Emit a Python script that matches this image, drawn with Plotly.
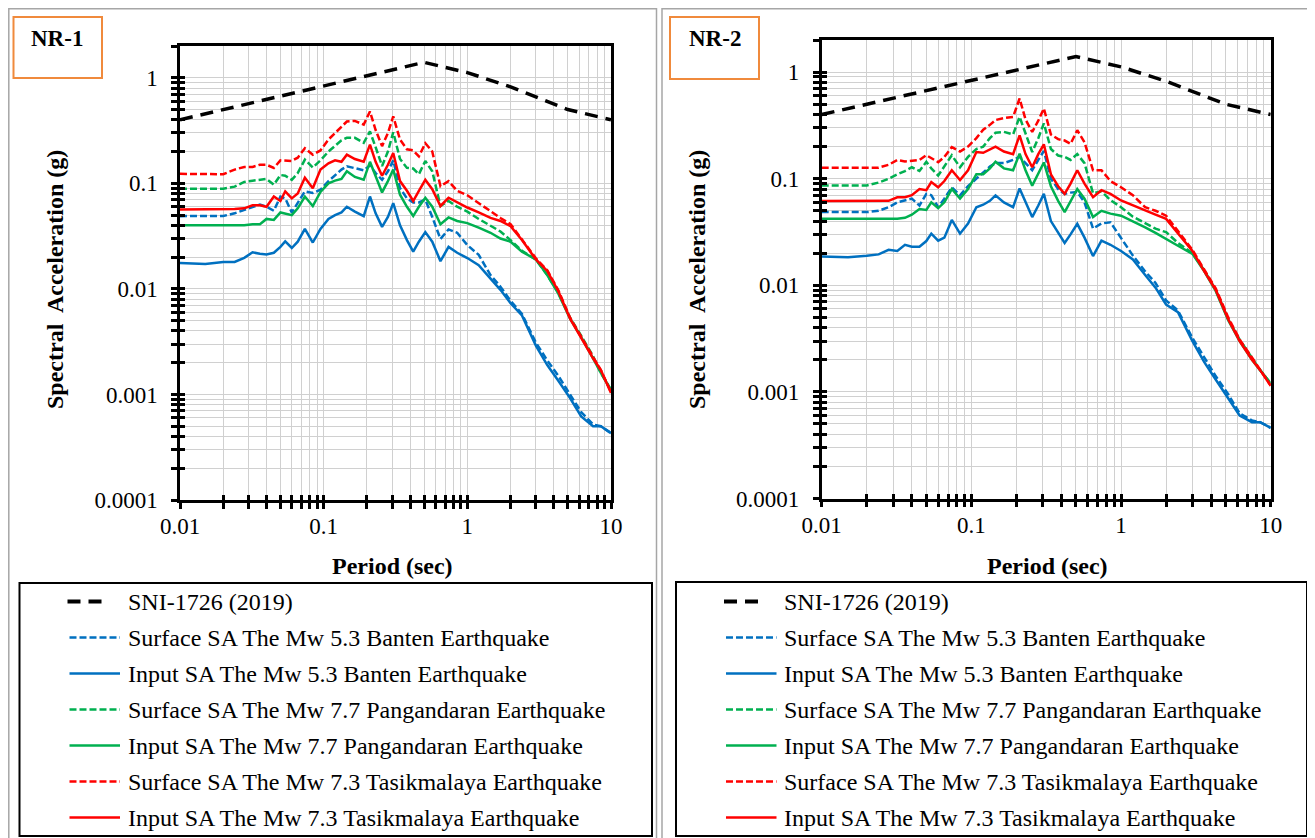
import plotly.graph_objects as go

# page offset (browser body margin) and figure size so the page fits 1315x838
OFF = 8
W, H = 1315 - OFF, 838 - OFF

# ---------------- data ----------------
period = [0.01, 0.015, 0.02, 0.024, 0.028, 0.032, 0.036, 0.04, 0.045, 0.05,
          0.054, 0.06, 0.066, 0.074, 0.084, 0.095, 0.108, 0.12, 0.133, 0.145,
          0.165, 0.19, 0.21, 0.23, 0.255, 0.28, 0.305, 0.34, 0.38, 0.42,
          0.46, 0.51, 0.57, 0.65, 0.74, 0.85, 1.0, 1.2, 1.45, 1.7,
          2.0, 2.4, 3.0, 3.6, 4.3, 5.2, 6.2, 7.5, 8.5, 10]

sni_period = [0.01, 0.5, 1.0, 2.0, 5.0, 10.0]
sni_sa = [0.40, 1.40, 1.12, 0.82, 0.50, 0.40]

nr1_banten_surface = [0.0489, 0.0489, 0.049, 0.052, 0.056, 0.060, 0.063, 0.060, 0.055, 0.075,
                      0.072, 0.053, 0.065, 0.084, 0.081, 0.087, 0.105, 0.12, 0.135, 0.145,
                      0.14, 0.133, 0.148, 0.125, 0.108, 0.13, 0.165, 0.09, 0.072, 0.066,
                      0.066, 0.070, 0.048, 0.0297, 0.0366, 0.034, 0.026, 0.021, 0.0135, 0.0105,
                      0.0077, 0.0058, 0.0031, 0.0021, 0.0015, 0.00098, 0.00068, 0.00052, 0.00050, 0.00043]
nr1_banten_input = [0.0176, 0.0172, 0.018, 0.018, 0.0197, 0.0222, 0.0215, 0.0212, 0.022, 0.025,
                    0.0282, 0.0244, 0.028, 0.037, 0.0275, 0.037, 0.046, 0.05, 0.053, 0.060,
                    0.054, 0.0488, 0.075, 0.052, 0.0387, 0.048, 0.065, 0.04, 0.029, 0.0225,
                    0.028, 0.0345, 0.028, 0.0183, 0.025, 0.022, 0.0196, 0.0168, 0.0125, 0.0098,
                    0.0073, 0.0056, 0.0029, 0.0019, 0.00135, 0.00092, 0.00062, 0.00050, 0.00050, 0.00043]
nr1_pang_surface = [0.0887, 0.0887, 0.089, 0.093, 0.103, 0.106, 0.108, 0.11, 0.097, 0.12,
                    0.118, 0.108, 0.125, 0.168, 0.141, 0.165, 0.2, 0.228, 0.255, 0.27,
                    0.27, 0.242, 0.31, 0.22, 0.146, 0.2, 0.305, 0.17, 0.14, 0.138,
                    0.122, 0.163, 0.13, 0.061, 0.068, 0.06, 0.054, 0.046, 0.040, 0.035,
                    0.029, 0.023, 0.019, 0.0135, 0.0092, 0.0053, 0.0036, 0.0023, 0.0016, 0.0011]
nr1_pang_input = [0.040, 0.040, 0.040, 0.040, 0.040, 0.041, 0.041, 0.046, 0.045, 0.053,
                  0.052, 0.050, 0.058, 0.075, 0.061, 0.083, 0.1, 0.106, 0.11, 0.13,
                  0.115, 0.108, 0.16, 0.115, 0.082, 0.105, 0.135, 0.078, 0.06, 0.049,
                  0.06, 0.073, 0.06, 0.041, 0.0475, 0.044, 0.042, 0.038, 0.034, 0.030,
                  0.028, 0.0225, 0.019, 0.0135, 0.009, 0.0052, 0.0035, 0.0022, 0.0016, 0.0011]
nr1_tasik_surface = [0.123, 0.123, 0.122, 0.135, 0.143, 0.143, 0.15, 0.15, 0.14, 0.165,
                     0.165, 0.163, 0.175, 0.215, 0.187, 0.205, 0.26, 0.30, 0.34, 0.385,
                     0.39, 0.36, 0.48, 0.32, 0.225, 0.30, 0.43, 0.26, 0.21, 0.205,
                     0.18, 0.24, 0.2, 0.094, 0.105, 0.085, 0.077, 0.065, 0.054, 0.047,
                     0.041, 0.0295, 0.0195, 0.015, 0.0097, 0.0053, 0.0035, 0.0023, 0.0017, 0.00105]
nr1_tasik_input = [0.0565, 0.0565, 0.057, 0.057, 0.058, 0.062, 0.062, 0.060, 0.075, 0.068,
                   0.084, 0.072, 0.08, 0.113, 0.09, 0.135, 0.155, 0.165, 0.16, 0.187,
                   0.17, 0.16, 0.233, 0.16, 0.118, 0.15, 0.194, 0.105, 0.085, 0.068,
                   0.085, 0.108, 0.088, 0.061, 0.073, 0.066, 0.059, 0.053, 0.047, 0.044,
                   0.0393, 0.029, 0.019, 0.0148, 0.0095, 0.0052, 0.0034, 0.0022, 0.0017, 0.00103]

nr2_banten_surface = [0.0486, 0.0486, 0.0486, 0.05, 0.054, 0.060, 0.063, 0.065, 0.056, 0.072,
                      0.070, 0.054, 0.065, 0.083, 0.07, 0.085, 0.1, 0.115, 0.13, 0.14,
                      0.14, 0.15, 0.16, 0.14, 0.12, 0.15, 0.182, 0.1, 0.08, 0.072,
                      0.074, 0.075, 0.06, 0.034, 0.038, 0.039, 0.028, 0.019, 0.0135, 0.0105,
                      0.0072, 0.0058, 0.0032, 0.0021, 0.0014, 0.00095, 0.00063, 0.00054, 0.00052, 0.00046]
nr2_banten_input = [0.0186, 0.0183, 0.0189, 0.0195, 0.0215, 0.021, 0.024, 0.023, 0.023, 0.026,
                    0.0305, 0.0262, 0.028, 0.041, 0.0305, 0.038, 0.054, 0.057, 0.062, 0.0697,
                    0.060, 0.054, 0.081, 0.06, 0.0436, 0.056, 0.072, 0.04, 0.031, 0.025,
                    0.03, 0.0377, 0.028, 0.0188, 0.0262, 0.024, 0.021, 0.0175, 0.0125, 0.0095,
                    0.0066, 0.0056, 0.003, 0.0019, 0.0013, 0.00088, 0.0006, 0.00052, 0.00052, 0.00046]
nr2_pang_surface = [0.0865, 0.0865, 0.0865, 0.092, 0.1, 0.11, 0.118, 0.128, 0.118, 0.144,
                    0.125, 0.107, 0.13, 0.166, 0.128, 0.16, 0.19, 0.2, 0.24, 0.27,
                    0.275, 0.26, 0.38, 0.26, 0.178, 0.24, 0.33, 0.19, 0.165, 0.16,
                    0.15, 0.17, 0.14, 0.073, 0.076, 0.063, 0.054, 0.044, 0.038, 0.034,
                    0.0315, 0.025, 0.020, 0.0138, 0.009, 0.0048, 0.0031, 0.0021, 0.0016, 0.0012]
nr2_pang_input = [0.042, 0.042, 0.042, 0.042, 0.042, 0.042, 0.043, 0.046, 0.052, 0.051,
                  0.06, 0.053, 0.06, 0.08, 0.065, 0.08, 0.11, 0.11, 0.125, 0.144,
                  0.125, 0.12, 0.172, 0.12, 0.086, 0.11, 0.142, 0.085, 0.062, 0.0486,
                  0.062, 0.08, 0.065, 0.0436, 0.050, 0.047, 0.045, 0.040, 0.035, 0.031,
                  0.027, 0.0235, 0.0197, 0.0135, 0.0088, 0.0047, 0.0030, 0.0020, 0.0016, 0.0012]
nr2_tasik_surface = [0.127, 0.127, 0.127, 0.127, 0.135, 0.150, 0.145, 0.148, 0.15, 0.166,
                     0.155, 0.143, 0.16, 0.198, 0.18, 0.2, 0.24, 0.288, 0.32, 0.355,
                     0.37, 0.38, 0.565, 0.36, 0.274, 0.35, 0.456, 0.26, 0.235, 0.228,
                     0.212, 0.285, 0.22, 0.12, 0.12, 0.095, 0.083, 0.07, 0.054, 0.050,
                     0.045, 0.032, 0.0215, 0.014, 0.0093, 0.005, 0.0031, 0.0021, 0.0016, 0.00115]
nr2_tasik_input = [0.0616, 0.0616, 0.0616, 0.062, 0.062, 0.067, 0.067, 0.070, 0.08, 0.078,
                   0.093, 0.083, 0.095, 0.12, 0.097, 0.12, 0.178, 0.175, 0.19, 0.2,
                   0.18, 0.17, 0.255, 0.17, 0.128, 0.17, 0.21, 0.11, 0.085, 0.072,
                   0.09, 0.12, 0.09, 0.067, 0.078, 0.072, 0.0625, 0.056, 0.050, 0.046,
                   0.042, 0.031, 0.021, 0.0135, 0.0090, 0.0048, 0.0030, 0.0020, 0.0016, 0.00114]

series_names = ["SNI-1726 (2019)",
                "Surface SA The Mw 5.3 Banten Earthquake",
                "Input SA The Mw 5.3 Banten Earthquake",
                "Surface SA The Mw 7.7 Pangandaran Earthquake",
                "Input SA The Mw 7.7 Pangandaran Earthquake",
                "Surface SA The Mw 7.3 Tasikmalaya Earthquake",
                "Input SA The Mw 7.3 Tasikmalaya Earthquake"]
panel_labels = ["NR-1", "NR-2"]
x_ticks = [0.01, 0.1, 1, 10]
x_ticktext = ["0.01", "0.1", "1", "10"]
y_ticks = [0.0001, 0.001, 0.01, 0.1, 1]
y_ticktext = ["0.0001", "0.001", "0.01", "0.1", "1"]

# ---------------- styles ----------------
BLUE, GREEN, RED = "#0070C0", "#00B050", "#FF0000"
colors = ["#000000", BLUE, BLUE, GREEN, GREEN, RED, RED]
dashes = ["13px,8px", "7px,3px", "solid", "7px,3px", "solid", "7px,3px", "solid"]
widths = [3.5, 2.5, 2.5, 2.5, 2.5, 2.5, 2.5]
FONT = "Liberation Serif, Times New Roman, serif"

panels_data = [
    [nr1_banten_surface, nr1_banten_input, nr1_pang_surface, nr1_pang_input, nr1_tasik_surface, nr1_tasik_input],
    [nr2_banten_surface, nr2_banten_input, nr2_pang_surface, nr2_pang_input, nr2_tasik_surface, nr2_tasik_input],
]

def PX(x):
    """page pixel -> paper fraction"""
    return (x - OFF) / W

def PY(y):
    return 1 - (y - OFF) / H

# panel geometry in page pixels
geo = [
    dict(x0=180, x1=611, y0=46, y1=500, frame=(8.8, 8.8, 656.5, 850), label_box=(13.5, 17, 102, 78),
         label_x=29, ytitle_x=55, xtitle_x=392, legend=(19.5, 583, 652, 836)),
    dict(x0=821.7, x1=1270.7, y0=40, y1=498.5, frame=(662, 8.8, 1330, 850), label_box=(670, 17, 759, 79),
         label_x=687, ytitle_x=697, xtitle_x=1047, legend=(676, 582, 1307, 836)),
]

fig = go.Figure()
layout = dict(width=W, height=H, margin=dict(l=0, r=0, t=0, b=0, pad=0, autoexpand=False),
              paper_bgcolor="white", plot_bgcolor="white", showlegend=False,
              font=dict(family=FONT, color="black"))
shapes, annotations = [], []

minor_x = [m * 10 ** e for e in range(-2, 1) for m in range(2, 10)]
minor_y = [m * 10 ** e for e in range(-4, 0) for m in range(2, 10)] + [2]

for i, g in enumerate(geo):
    n = 1 + 2 * i       # main axes index
    o = 2 + 2 * i       # overlay axes for inward ticks
    xa, ya = f"x{n}" if n > 1 else "x", f"y{n}" if n > 1 else "y"
    xo, yo = f"x{o}", f"y{o}"
    dom_x = [PX(g["x0"]), PX(g["x1"])]
    dom_y = [PY(g["y1"]), PY(g["y0"])]
    common_x = dict(type="log", range=[-2, 1], domain=dom_x, tickvals=x_ticks, ticktext=x_ticktext,
                    automargin=False)
    common_y = dict(type="log", range=[-4, 0.30103], domain=dom_y, tickvals=y_ticks, ticktext=y_ticktext,
                    automargin=False)
    layout[f"xaxis{n if n > 1 else ''}"] = dict(
        **common_x, anchor=ya, showline=True, linecolor="black", linewidth=2.5, mirror=True,
        ticks="outside", ticklen=6, tickwidth=2.5, tickcolor="black",
        tickfont=dict(size=23, family=FONT), ticklabelstandoff=-2,
        showgrid=True, gridcolor="#d0d0d0", gridwidth=1, zeroline=False,
        minor=dict(tickvals=minor_x, ticks="outside", ticklen=6, tickwidth=2.5, tickcolor="black",
                   showgrid=True, gridcolor="#d0d0d0", gridwidth=1))
    layout[f"yaxis{n if n > 1 else ''}"] = dict(
        **common_y, anchor=xa, showline=True, linecolor="black", linewidth=2.5, mirror=True,
        ticks="outside", ticklen=6, tickwidth=2.5, tickcolor="black",
        tickfont=dict(size=23, family=FONT), ticklabelstandoff=9,
        showgrid=True, gridcolor="#d0d0d0", gridwidth=1, zeroline=False,
        minor=dict(tickvals=minor_y, ticks="outside", ticklen=6, tickwidth=2.5, tickcolor="black",
                   showgrid=True, gridcolor="#d0d0d0", gridwidth=1))
    layout[f"xaxis{o}"] = dict(**common_x, overlaying=xa, anchor=ya, side="bottom",
                               showline=False, ticks="inside", ticklen=5, tickwidth=2.5, tickcolor="black",
                               showticklabels=False, showgrid=False, zeroline=False,
                               minor=dict(tickvals=minor_x, ticks="inside", ticklen=5, tickwidth=2.5,
                                          tickcolor="black", showgrid=False))
    layout[f"yaxis{o}"] = dict(**common_y, overlaying=ya, anchor=xa, side="left",
                               showline=False, ticks="inside", ticklen=5, tickwidth=2.5, tickcolor="black",
                               showticklabels=False, showgrid=False, zeroline=False,
                               minor=dict(tickvals=minor_y, ticks="inside", ticklen=5, tickwidth=2.5,
                                          tickcolor="black", showgrid=False))

    # SNI design spectrum
    fig.add_trace(go.Scatter(x=sni_period, y=sni_sa, mode="lines", name=series_names[0],
                             line=dict(color=colors[0], dash=dashes[0], width=widths[0]),
                             xaxis=xa, yaxis=ya))
    for k, vals in enumerate(panels_data[i]):
        fig.add_trace(go.Scatter(x=period, y=vals, mode="lines", name=series_names[k + 1],
                                 line=dict(color=colors[k + 1], dash=dashes[k + 1], width=widths[k + 1]),
                                 xaxis=xa, yaxis=ya))
    fig.add_trace(go.Scatter(x=[], y=[], mode="lines", xaxis=xo, yaxis=yo, hoverinfo="skip"))

    # panel frame
    fx0, fy0, fx1, fy1 = g["frame"]
    shapes.append(dict(type="rect", xref="paper", yref="paper", x0=PX(fx0), x1=PX(fx1),
                       y0=PY(fy1), y1=PY(fy0), line=dict(color="#a6a6a6", width=1.5), layer="below"))
    # orange label box
    bx0, by0, bx1, by1 = g["label_box"]
    shapes.append(dict(type="rect", xref="paper", yref="paper", x0=PX(bx0), x1=PX(bx1),
                       y0=PY(by1), y1=PY(by0), line=dict(color="#F08A3C", width=2)))
    annotations.append(dict(text=f"<b>{panel_labels[i]}</b>", xref="paper", yref="paper",
                            x=PX(g["label_x"]), y=PY(38), xanchor="left", yanchor="middle",
                            showarrow=False, font=dict(size=23, family=FONT)))
    # axis titles
    annotations.append(dict(text="<b>Spectral\u00a0 Acceleration (g)</b>", xref="paper", yref="paper",
                            x=PX(g["ytitle_x"]), y=PY(280), xanchor="center", yanchor="middle",
                            textangle=-90, showarrow=False, font=dict(size=24, family=FONT)))
    annotations.append(dict(text="<b>Period (sec)</b>", xref="paper", yref="paper",
                            x=PX(g["xtitle_x"]), y=PY(566), xanchor="center", yanchor="middle",
                            showarrow=False, font=dict(size=24, family=FONT)))
    # legend box
    lx0, ly0, lx1, ly1 = g["legend"]
    shapes.append(dict(type="rect", xref="paper", yref="paper", x0=PX(lx0), x1=PX(lx1),
                       y0=PY(ly1), y1=PY(ly0), line=dict(color="black", width=2)))
    for k, name in enumerate(series_names):
        yy = 601.5 + 36 * k
        sx0 = lx0 + (48 if k == 0 else 50)
        sx1 = lx0 + (90 if k == 0 else 100.5)
        shapes.append(dict(type="line", xref="paper", yref="paper", x0=PX(sx0), x1=PX(sx1),
                           y0=PY(yy), y1=PY(yy),
                           line=dict(color=colors[k], width=widths[k] + (0.5 if k == 0 else 0),
                                     dash=dashes[k])))
        annotations.append(dict(text=name, xref="paper", yref="paper", x=PX(lx0 + 106.5), y=PY(yy),
                                xanchor="left", yanchor="middle", showarrow=False,
                                font=dict(size=24, family=FONT)))

layout["shapes"] = shapes
layout["annotations"] = annotations
fig.update_layout(**layout)
fig.write_html("out.html")
